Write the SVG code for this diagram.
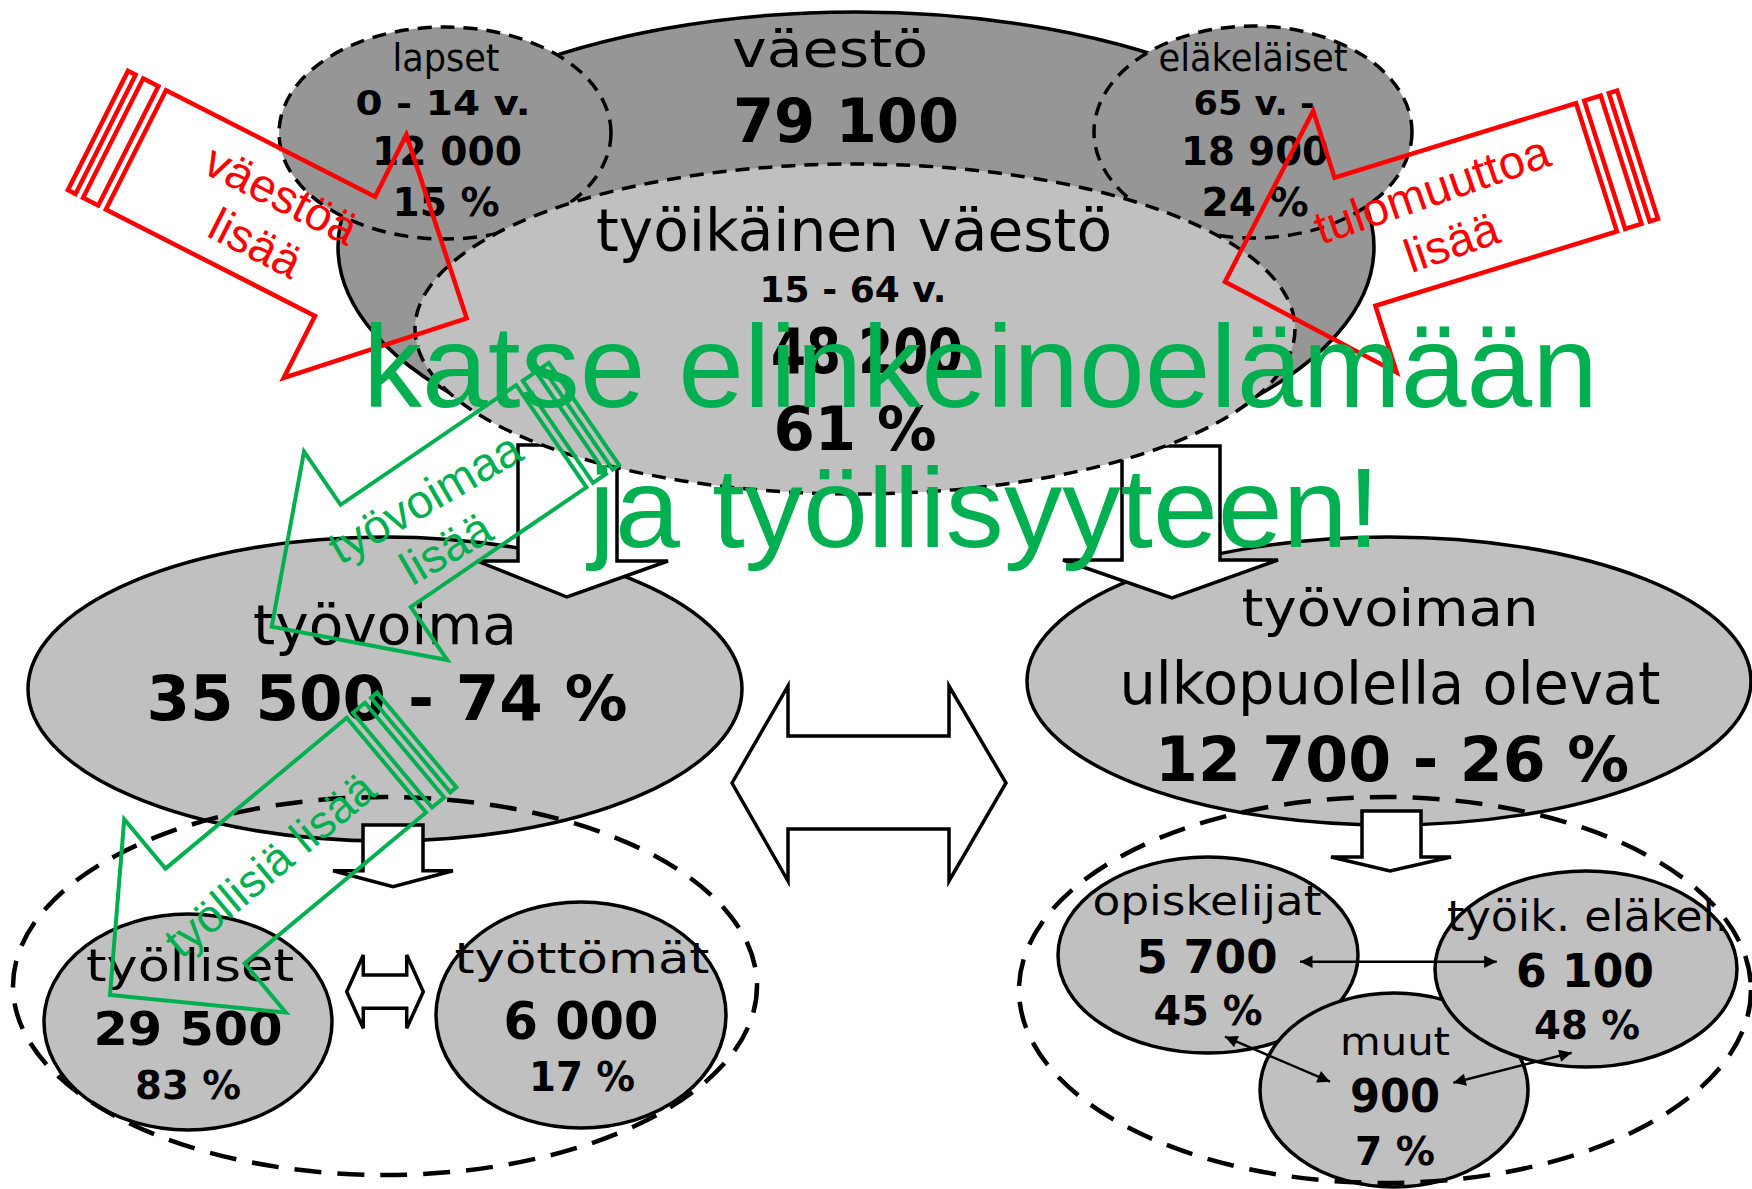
<svg xmlns="http://www.w3.org/2000/svg" width="1752" height="1189" viewBox="0 0 1752 1189">
<defs>
<style>
.dk{fill:#969696;stroke:#000;stroke-width:3.5}
.lt{fill:#c0c0c0;stroke:#000;stroke-width:3.5}
.dsh{stroke-dasharray:14 9;stroke-width:3.5}
.big{fill:none;stroke:#000;stroke-width:4.5;stroke-dasharray:27 16}
.blk{fill:#fff;stroke:#000;stroke-width:3.5;stroke-linejoin:miter}
.t{font-family:"DejaVu Sans",sans-serif;fill:#000;text-anchor:middle}
.b{font-weight:bold}
.ra{fill:none;stroke:#ff0000;stroke-width:4.5;vector-effect:non-scaling-stroke}
.ga{fill:none;stroke:#00b050;stroke-width:4;vector-effect:non-scaling-stroke}
.rt{font-family:"Liberation Sans",Arial,sans-serif;fill:#ff0000;text-anchor:middle}
.gs{font-family:"Liberation Sans",Arial,sans-serif;fill:#00b050;text-anchor:middle}
.gt{font-family:"Liberation Sans",Arial,sans-serif;fill:#00b050}
.thin{fill:none;stroke:#000;stroke-width:2.5;marker-start:url(#ah);marker-end:url(#ah)}
</style>
<marker id="ah" viewBox="0 0 10 10" refX="10" refY="5" markerWidth="6" markerHeight="5" orient="auto-start-reverse" markerUnits="strokeWidth"><path d="M0,0 L10,5 L0,10 z" fill="#000"/></marker>
</defs>
<rect width="1752" height="1189" fill="#fff"/>

<g id="tyovoima">
<ellipse class="lt" cx="385" cy="689" rx="357" ry="152"/>
<text class="t" x="385" y="644" font-size="55" textLength="264" lengthAdjust="spacingAndGlyphs">työvoima</text>
<text class="t b" x="387" y="720" font-size="63" textLength="481" lengthAdjust="spacingAndGlyphs">35 500 - 74 %</text>
</g>
<g id="ulkopuolella">
<ellipse class="lt" cx="1389" cy="681" rx="362" ry="144"/>
<text class="t" x="1390" y="626" font-size="52" textLength="297" lengthAdjust="spacingAndGlyphs">työvoiman</text>
<text class="t" x="1390" y="704" font-size="58" textLength="541" lengthAdjust="spacingAndGlyphs">ulkopuolella olevat</text>
<text class="t b" x="1392" y="781" font-size="63" textLength="474" lengthAdjust="spacingAndGlyphs">12 700 - 26 %</text>
</g>
<g id="tyolliset">
<ellipse class="lt" cx="188" cy="1022" rx="144" ry="108"/>
<text class="t" x="190" y="981" font-size="45" textLength="208" lengthAdjust="spacingAndGlyphs">työlliset</text>
<text class="t b" x="188" y="1045" font-size="47" textLength="189" lengthAdjust="spacingAndGlyphs">29 500</text>
<text class="t b" x="188" y="1099" font-size="39" textLength="106" lengthAdjust="spacingAndGlyphs">83 %</text>
</g>
<g id="tyottomat">
<ellipse class="lt" cx="581" cy="1015" rx="145" ry="113"/>
<text class="t" x="582" y="973" font-size="42" textLength="255" lengthAdjust="spacingAndGlyphs">työttömät</text>
<text class="t b" x="581" y="1039" font-size="52" textLength="155" lengthAdjust="spacingAndGlyphs">6 000</text>
<text class="t b" x="582" y="1091" font-size="41" textLength="106" lengthAdjust="spacingAndGlyphs">17 %</text>
</g>
<g id="tyovoima-ryhma">
<ellipse class="big" cx="385" cy="986" rx="372" ry="189"/>
</g>
<g id="opiskelijat">
<ellipse class="lt" cx="1208" cy="955" rx="150" ry="98"/>
<text class="t" x="1207" y="915" font-size="40" textLength="229" lengthAdjust="spacingAndGlyphs">opiskelijat</text>
<text class="t b" x="1207" y="973" font-size="47" textLength="141" lengthAdjust="spacingAndGlyphs">5 700</text>
<text class="t b" x="1208" y="1025" font-size="41" textLength="109" lengthAdjust="spacingAndGlyphs">45 %</text>
</g>
<g id="muut">
<ellipse class="lt" cx="1394" cy="1090" rx="134" ry="97"/>
<text class="t" x="1395" y="1055" font-size="39" textLength="110" lengthAdjust="spacingAndGlyphs">muut</text>
<text class="t b" x="1395" y="1112" font-size="46" textLength="90" lengthAdjust="spacingAndGlyphs">900</text>
<text class="t b" x="1395" y="1165" font-size="39" textLength="80" lengthAdjust="spacingAndGlyphs">7 %</text>
</g>
<g id="tyoik-elakel">
<ellipse class="lt" cx="1586" cy="969" rx="151" ry="98"/>
<text class="t" x="1588" y="931" font-size="42" textLength="282" lengthAdjust="spacingAndGlyphs">työik. eläkel.</text>
<text class="t b" x="1585" y="987" font-size="47" textLength="138" lengthAdjust="spacingAndGlyphs">6 100</text>
<text class="t b" x="1587" y="1039" font-size="39" textLength="106" lengthAdjust="spacingAndGlyphs">48 %</text>
</g>
<g id="ulkopuolella-ryhma">
<ellipse class="big" cx="1385" cy="990" rx="366" ry="193"/>
</g>

<g id="connectors">
<path class="blk" d="M518,445 L617,445 L617,561 L668,561 L567,597 L477,561 L518,561 Z"/>
<path class="blk" d="M1122,446 L1220,446 L1220,560 L1278,560 L1172,598 L1063,560 L1122,560 Z"/>
<path class="blk" d="M363,825 L423,825 L423,870.7 L453,870.7 L393,886.7 L333,870.7 L363,870.7 Z"/>
<path class="blk" d="M1362,811 L1421,811 L1421,857 L1451,857 L1390,871 L1331,857 L1362,857 Z"/>
<path class="blk" d="M732,783 L788,686 L788,736 L949,736 L949,686 L1006,783 L949,881 L949,829 L788,829 L788,881 Z"/>
<path class="blk" d="M346.7,991.7 L363.3,955 L363.3,975 L406.7,975 L406.7,955 L423.3,991.7 L406.7,1028.3 L406.7,1008.3 L363.3,1008.3 L363.3,1028.3 Z"/>
<line class="thin" x1="1300" y1="961.7" x2="1496.7" y2="961.7"/>
<line class="thin" x1="1225" y1="1036.7" x2="1330" y2="1081.7"/>
<line class="thin" x1="1453.3" y1="1082.7" x2="1571.7" y2="1052.7"/>
</g>

<g id="vaesto">
<ellipse class="dk" cx="856" cy="247" rx="518" ry="235"/>
<text class="t" x="830" y="67" font-size="52" textLength="196" lengthAdjust="spacingAndGlyphs">väestö</text>
<text class="t b" x="846" y="142" font-size="60" textLength="226" lengthAdjust="spacingAndGlyphs">79 100</text>
</g>
<g id="lapset">
<ellipse class="dk dsh" cx="445" cy="133" rx="166" ry="106"/>
<text class="t" x="446" y="71" font-size="37" textLength="107" lengthAdjust="spacingAndGlyphs">lapset</text>
<text class="t b" x="443" y="115" font-size="34" textLength="175" lengthAdjust="spacingAndGlyphs">0 - 14 v.</text>
<text class="t b" x="447" y="165" font-size="39" textLength="150" lengthAdjust="spacingAndGlyphs">12 000</text>
<text class="t b" x="446" y="216" font-size="39" textLength="107" lengthAdjust="spacingAndGlyphs">15 %</text>
</g>
<g id="elakelaiset">
<ellipse class="dk dsh" cx="1253" cy="132" rx="159" ry="106"/>
<text class="t" x="1253" y="71" font-size="37" textLength="189" lengthAdjust="spacingAndGlyphs">eläkeläiset</text>
<text class="t b" x="1254" y="115" font-size="34" textLength="121" lengthAdjust="spacingAndGlyphs">65 v. -</text>
<text class="t b" x="1255" y="165" font-size="39" textLength="148" lengthAdjust="spacingAndGlyphs">18 900</text>
<text class="t b" x="1255" y="216" font-size="39" textLength="107" lengthAdjust="spacingAndGlyphs">24 %</text>
</g>
<g id="tyoikainen">
<ellipse class="lt dsh" cx="855" cy="329" rx="440" ry="165"/>
<text class="t" x="854" y="251" font-size="58" textLength="516" lengthAdjust="spacingAndGlyphs">työikäinen väestö</text>
<text class="t b" x="853" y="302" font-size="36" textLength="187" lengthAdjust="spacingAndGlyphs">15 - 64 v.</text>
<text class="t b" x="867" y="373" font-size="62" textLength="192" lengthAdjust="spacingAndGlyphs">48 200</text>
<text class="t b" x="855" y="450" font-size="60" textLength="163" lengthAdjust="spacingAndGlyphs">61 %</text>
</g>

<g id="vaestoa-lisaa">
<g transform="matrix(368.7 187.8 -122.7 243.3 98 130.5)">
<polygon class="ra" points="0.1029,-0.245 0.67,-0.245 0.67,-0.5 1,0 0.67,0.5 0.67,0.245 0.1029,0.245"/>
<polygon class="ra" points="0,-0.245 0.0206,-0.245 0.0206,0.245 0,0.245"/>
<polygon class="ra" points="0.0411,-0.245 0.0823,-0.245 0.0823,0.245 0.0411,0.245"/>
</g>
<g transform="translate(274,209) rotate(27)">
<text class="rt" x="0" y="0" font-size="47">väestöä</text>
<text class="rt" x="-1" y="55" font-size="47">lisää</text>
</g>
</g>
<g id="tulomuuttoa-lisaa">
<g transform="matrix(-412.5 127 83.4 261.6 1637.5 154.7)">
<polygon class="ra" points="0.0994,-0.245 0.685,-0.245 0.685,-0.5 1,0 0.685,0.5 0.685,0.245 0.0994,0.245"/>
<polygon class="ra" points="0,-0.245 0.0199,-0.245 0.0199,0.245 0,0.245"/>
<polygon class="ra" points="0.0398,-0.245 0.0795,-0.245 0.0795,0.245 0.0398,0.245"/>
</g>
<g transform="translate(1437,205) rotate(-19)">
<text class="rt" x="0" y="0" font-size="47">tulomuuttoa</text>
<text class="rt" x="1.5" y="56" font-size="47">lisää</text>
</g>
</g>
<g id="tyovoimaa-lisaa">
<g transform="matrix(-312.3 212.7 143.3 208.4 584 414)">
<polygon class="ga" points="0.1045,-0.245 0.667,-0.245 0.667,-0.5 1,0 0.667,0.5 0.667,0.245 0.1045,0.245"/>
<polygon class="ga" points="0,-0.245 0.0209,-0.245 0.0209,0.245 0,0.245"/>
<polygon class="ga" points="0.0418,-0.245 0.0836,-0.245 0.0836,0.245 0.0418,0.245"/>
</g>
<g transform="translate(433,512) rotate(-30)">
<text class="gs" x="0" y="0" font-size="47">työvoimaa</text>
<text class="gs" x="-7" y="54" font-size="47">lisää</text>
</g>
</g>
<g id="tyollisia-lisaa">
<g transform="matrix(-306.7 255 161.7 193.3 416.7 740)">
<polygon class="ga" points="0.0987,-0.245 0.69,-0.245 0.69,-0.5 1,0 0.69,0.5 0.69,0.245 0.0987,0.245"/>
<polygon class="ga" points="0,-0.245 0.0197,-0.245 0.0197,0.245 0,0.245"/>
<polygon class="ga" points="0.0395,-0.245 0.079,-0.245 0.079,0.245 0.0395,0.245"/>
</g>
<g transform="translate(280,877) rotate(-40)">
<text class="gs" x="0" y="0" font-size="46">työllisiä lisää</text>
</g>
</g>

<g id="otsikko">
<text class="gt" x="363" y="407" font-size="116" textLength="1235" lengthAdjust="spacingAndGlyphs">katse elinkeinoelämään</text>
<text class="gt" x="589" y="547" font-size="114" textLength="791" lengthAdjust="spacingAndGlyphs">ja työllisyyteen!</text>
</g>
</svg>
